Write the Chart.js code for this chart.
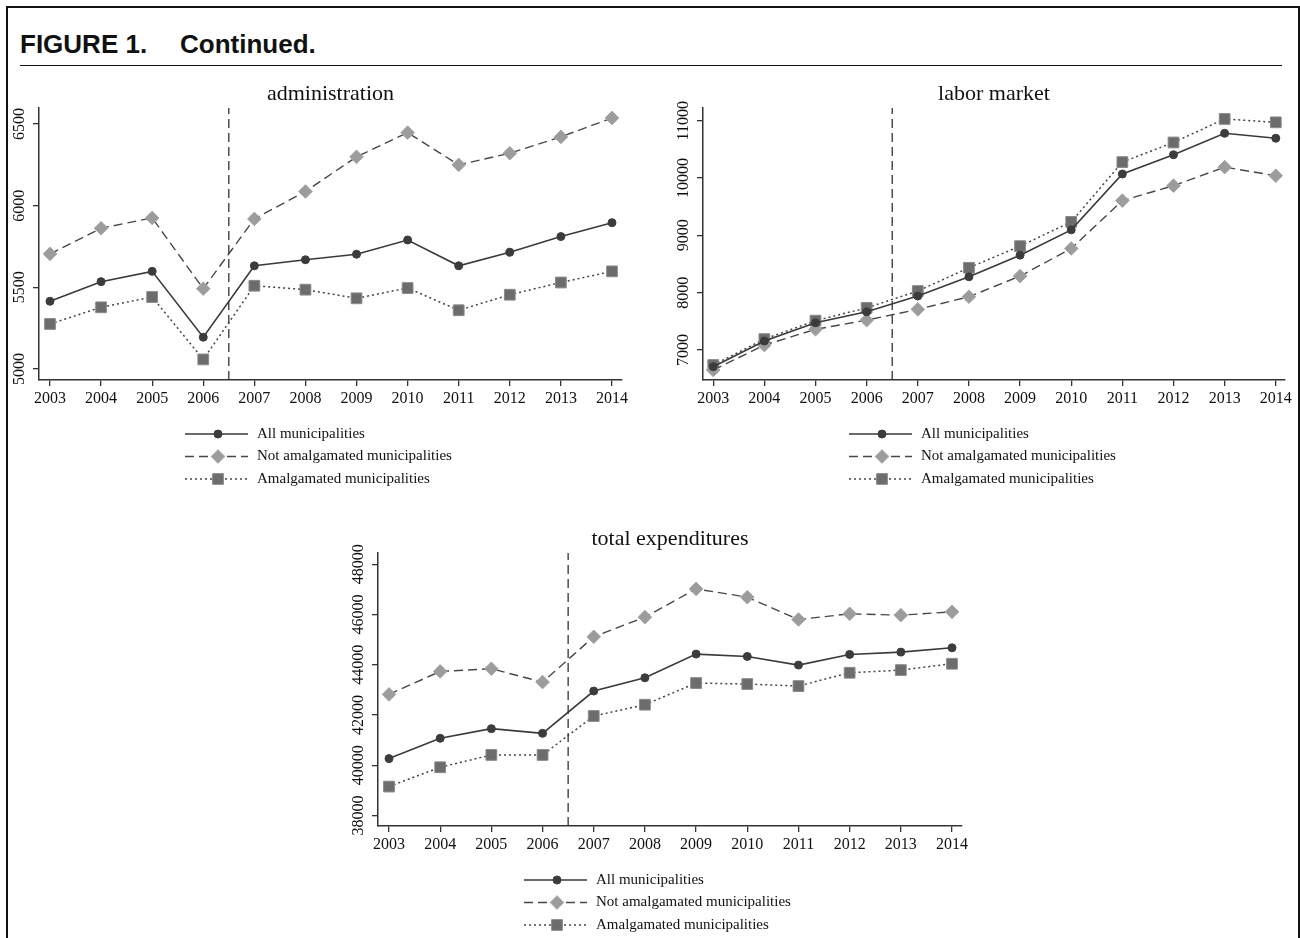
<!DOCTYPE html>
<html>
<head>
<meta charset="utf-8">
<script src="https://cdn.jsdelivr.net/npm/chart.js@4.4.1/dist/chart.umd.min.js"></script>
<style>
  body { margin: 0; background: #fff; }
  #page { position: relative; width: 1300px; height: 938px; overflow: hidden; }
  #frame { position: absolute; left: 6px; top: 6px; width: 1290px; height: 960px;
           border-left: 2px solid #111; border-top: 2px solid #111; border-right: 2px solid #111; }
  .head { position: absolute; top: 29px; font: bold 26px "Liberation Sans", Arial, sans-serif; color: #111; }
  #rule { position: absolute; left: 20px; top: 65px; width: 1262px; height: 0; border-top: 1.5px solid #111; }
  canvas { position: absolute; }
</style>
</head>
<body>
<div id="page">
  <div id="frame"></div>
  <div class="head" style="left:20px">FIGURE 1.</div>
  <div class="head" style="left:180px">Continued.</div>
  <div id="rule"></div>
  <canvas id="admin" width="650" height="430" style="left:0px;top:70px"></canvas>
  <canvas id="labor" width="650" height="430" style="left:650px;top:70px"></canvas>
  <canvas id="total" width="660" height="423" style="left:320px;top:515px"></canvas>
</div>
<script>
const years = [2003, 2004, 2005, 2006, 2007, 2008, 2009, 2010, 2011, 2012, 2013, 2014];
const reformYear = 2006.5;
const seriesNames = ["All municipalities", "Not amalgamated municipalities", "Amalgamated municipalities"];

const adminTicks = [5000, 5500, 6000, 6500];
const adminAll = [5415, 5535, 5598, 5195, 5632, 5669, 5703, 5790, 5632, 5715, 5811, 5896];
const adminNot = [5705, 5862, 5925, 5492, 5919, 6087, 6299, 6447, 6250, 6321, 6421, 6537];
const adminAmal = [5276, 5378, 5441, 5059, 5510, 5486, 5433, 5496, 5360, 5455, 5530, 5598];

const laborTicks = [7000, 8000, 9000, 10000, 11000];
const laborAll = [6710, 7157, 7475, 7667, 7942, 8278, 8655, 9096, 10070, 10406, 10780, 10693];
const laborNot = [6652, 7087, 7362, 7522, 7710, 7930, 8290, 8771, 9606, 9867, 10190, 10040];
const laborAmal = [6739, 7191, 7513, 7736, 8029, 8435, 8812, 9235, 10278, 10620, 11030, 10971];

const totalTicks = [38000, 40000, 42000, 44000, 46000, 48000];
const totalAll = [40265, 41073, 41457, 41272, 42954, 43483, 44424, 44331, 43987, 44411, 44503, 44675];
const totalNot = [42821, 43735, 43841, 43311, 45113, 45894, 47020, 46689, 45801, 46026, 45974, 46106];
const totalAmal = [39152, 39921, 40411, 40411, 41960, 42411, 43272, 43232, 43152, 43682, 43788, 44040];

const SERIF = '"Liberation Serif", "Times New Roman", serif';

// line / marker look for the three groups
const styles = [
  { line: "#3a3a3a", dash: [], width: 1.6, point: "circle", radius: 4, fill: "#3c3c3c", stroke: "#3c3c3c" },
  { line: "#474747", dash: [9, 5], width: 1.4, point: "rectRot", radius: 6.8, fill: "#9c9c9c", stroke: "#a4a4a4" },
  { line: "#444444", dash: [2, 3], width: 1.5, point: "rect", radius: 7.6, fill: "#6c6c6c", stroke: "#8a8a8a" },
];

function drawMarker(ctx, s, x, y) {
  ctx.save();
  ctx.fillStyle = s.fill;
  ctx.strokeStyle = s.stroke;
  ctx.lineWidth = 1;
  ctx.setLineDash([]);
  ctx.beginPath();
  if (s.point === "circle") {
    ctx.arc(x, y, s.radius, 0, Math.PI * 2);
  } else if (s.point === "rectRot") {
    ctx.moveTo(x, y - s.radius);
    ctx.lineTo(x + s.radius, y);
    ctx.lineTo(x, y + s.radius);
    ctx.lineTo(x - s.radius, y);
    ctx.closePath();
  } else {
    const h = s.radius * Math.SQRT1_2;
    ctx.rect(x - h, y - h, 2 * h, 2 * h);
  }
  ctx.fill();
  ctx.stroke();
  ctx.restore();
}

// title, rotated y labels and the legend under each panel
const panelDecor = {
  id: "panelDecor",
  afterDraw(chart, args, opts) {
    const { ctx, chartArea } = chart;
    const yScale = chart.scales.y;
    ctx.save();
    ctx.fillStyle = "#111";
    ctx.font = "22px " + SERIF;
    ctx.textAlign = "center";
    ctx.textBaseline = "alphabetic";
    ctx.fillText(opts.title, (chartArea.left + chartArea.right) / 2, chartArea.top - 8);

    ctx.font = "16px " + SERIF;
    ctx.textBaseline = "middle";
    opts.yTicks.forEach((v) => {
      const y = yScale.getPixelForValue(v);
      ctx.save();
      ctx.translate(chartArea.left - 19, y);
      ctx.rotate(-Math.PI / 2);
      ctx.fillText(String(v), 0, 0);
      ctx.restore();
    });

    const x0 = chartArea.left + 146;
    const x1 = chartArea.left + 209;
    const mx = chartArea.left + 179;
    seriesNames.forEach((name, i) => {
      const s = styles[i];
      const y = chartArea.bottom + 54 + i * 22.5;
      ctx.save();
      ctx.strokeStyle = s.line;
      ctx.lineWidth = s.width;
      ctx.setLineDash(s.dash);
      ctx.beginPath();
      ctx.moveTo(x0, y);
      ctx.lineTo(x1, y);
      ctx.stroke();
      ctx.restore();
      drawMarker(ctx, s, mx, y);
      ctx.fillStyle = "#111";
      ctx.font = "15px " + SERIF;
      ctx.textAlign = "left";
      ctx.fillText(name, chartArea.left + 218, y);
    });
    ctx.restore();
  },
};

function makePanel(id, p) {
  const toXY = (vals) => vals.map((v, i) => ({ x: years[i], y: v }));
  const datasets = [p.all, p.not, p.amal].map((vals, i) => {
    const s = styles[i];
    return {
      label: seriesNames[i],
      data: toXY(vals),
      borderColor: s.line,
      borderWidth: s.width,
      borderDash: s.dash,
      pointStyle: s.point,
      pointRadius: s.radius,
      pointBackgroundColor: s.fill,
      pointBorderColor: s.stroke,
      pointBorderWidth: 1,
      tension: 0,
      fill: false,
    };
  });
  // vertical dashed reform line
  datasets.push({
    label: "reform",
    data: [{ x: reformYear, y: p.yMin }, { x: reformYear, y: p.yMax }],
    borderColor: "#333",
    borderWidth: 1.3,
    borderDash: [9, 5],
    pointRadius: 0,
    fill: false,
  });

  return new Chart(document.getElementById(id), {
    type: "line",
    data: { datasets },
    options: {
      responsive: false,
      animation: false,
      devicePixelRatio: 1,
      layout: { padding: p.padding },
      scales: {
        x: {
          type: "linear",
          min: p.xMin,
          max: p.xMax,
          afterBuildTicks: (s) => { s.ticks = years.map((v) => ({ value: v })); },
          afterFit: (s) => { s.height = 40; },
          ticks: {
            autoSkip: false,
            maxRotation: 0,
            padding: 3,
            color: "#111",
            font: { family: SERIF, size: 16 },
            callback: (v) => String(v),
          },
          grid: { drawOnChartArea: false, drawTicks: true, tickLength: 6, color: "#333", lineWidth: 1.3 },
          border: { color: "#333", width: 1.5 },
        },
        y: {
          type: "linear",
          min: p.yMin,
          max: p.yMax,
          afterBuildTicks: (s) => { s.ticks = p.yTicks.map((v) => ({ value: v })); },
          afterFit: (s) => { s.width = p.axisWidth; },
          ticks: { display: false },
          grid: { drawOnChartArea: false, drawTicks: true, tickLength: 6, color: "#333", lineWidth: 1.3 },
          border: { color: "#333", width: 1.5 },
        },
      },
      plugins: {
        legend: { display: false },
        tooltip: { enabled: false },
        panelDecor: { title: p.title, yTicks: p.yTicks },
      },
    },
    plugins: [panelDecor],
  });
}

makePanel("admin", {
  title: "administration",
  all: adminAll, not: adminNot, amal: adminAmal,
  yTicks: adminTicks, yMin: 4933, yMax: 6598,
  xMin: 2002.785, xMax: 2014.196,
  axisWidth: 39,
  padding: { left: 0, top: 38, right: 28, bottom: 80 },
});

makePanel("labor", {
  title: "labor market",
  all: laborAll, not: laborNot, amal: laborAmal,
  yTicks: laborTicks, yMin: 6478, yMax: 11221,
  xMin: 2002.8, xMax: 2014.18,
  axisWidth: 53,
  padding: { left: 0, top: 38, right: 15, bottom: 80 },
});

makePanel("total", {
  title: "total expenditures",
  all: totalAll, not: totalNot, amal: totalAmal,
  yTicks: totalTicks, yMin: 37583, yMax: 48448,
  xMin: 2002.785, xMax: 2014.195,
  axisWidth: 58,
  padding: { left: 0, top: 38, right: 18, bottom: 72 },
});
</script>
</body>
</html>
